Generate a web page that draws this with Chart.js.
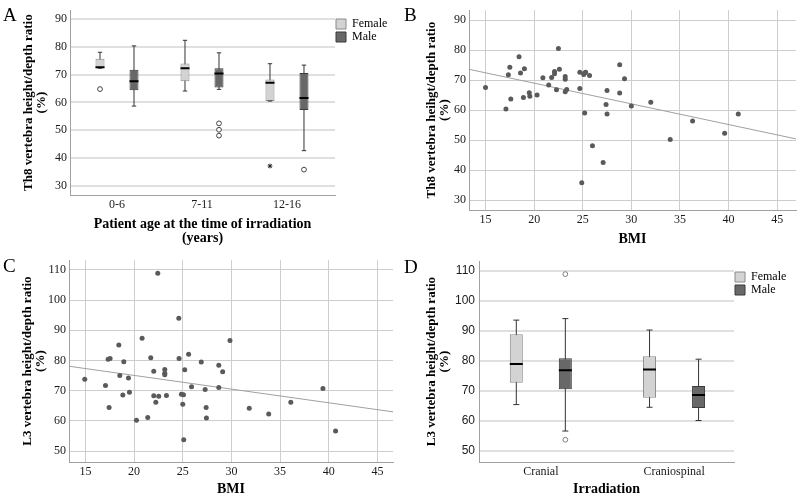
<!DOCTYPE html>
<html><head><meta charset="utf-8">
<script src="https://cdn.jsdelivr.net/npm/chart.js@4.4.1/dist/chart.umd.min.js"></script>
<style>
html,body{margin:0;padding:0;background:#fff;}
#wrap{position:relative;width:800px;height:498px;overflow:hidden;background:#fff;}
canvas{position:absolute;}
.lbl{position:absolute;font-family:"Liberation Serif","Times New Roman",serif;font-size:19px;line-height:19px;color:#000;}
</style></head><body>
<div id="wrap">
<canvas id="cA" width="400" height="250" style="left:0;top:0"></canvas>
<canvas id="cB" width="400" height="250" style="left:400px;top:0"></canvas>
<canvas id="cC" width="400" height="248" style="left:0;top:250px"></canvas>
<canvas id="cD" width="400" height="248" style="left:400px;top:250px"></canvas>
<div class="lbl" style="left:3px;top:5px">A</div>
<div class="lbl" style="left:404px;top:5px">B</div>
<div class="lbl" style="left:3px;top:256px">C</div>
<div class="lbl" style="left:404px;top:257px">D</div>
</div>
<script>
// ---------- Panel A: Th8 ratio by age group (box plots) ----------
const ageGroups = ['0-6', '7-11', '12-16'];
const th8Ticks = [30, 40, 50, 60, 70, 80, 90];
const aFemaleLow = [72.3, 64.1, 60.5];
const aFemaleQ1 = [72.3, 67.6, 60.5];
const aFemaleMedian = [72.6, 72.3, 67.1];
const aFemaleQ3 = [75.7, 74.0, 68.2];
const aFemaleHigh = [78.0, 82.3, 73.9];
const aFemaleOutliers = [[64.8], [], []];
const aFemaleExtremes = [[], [], [37.2]];
const aMaleLow = [58.7, 64.7, 42.7];
const aMaleQ1 = [64.4, 65.4, 57.3];
const aMaleMedian = [67.6, 70.4, 61.6];
const aMaleQ3 = [71.7, 72.3, 70.6];
const aMaleHigh = [80.3, 77.8, 73.4];
const aMaleOutliers = [[], [52.5, 50.2, 48.1], [35.9]];
const aMaleExtremes = [[], [], []];

// ---------- Panel B: Th8 ratio vs BMI ----------
const bmiTicks = [15, 20, 25, 30, 35, 40, 45];
const bmiB = [15.0, 17.1, 17.35, 17.5, 17.6, 18.45, 18.6, 18.9, 19.0, 19.5, 19.56, 20.3, 20.9, 21.5, 21.8, 22.1, 22.1, 22.3, 22.5, 22.6, 23.2, 23.2, 23.2, 23.35, 24.7, 24.7, 25.1, 25.2, 25.3, 25.7, 25.2, 24.9, 26.0, 27.1, 27.4, 27.5, 27.5, 28.8, 28.8, 29.3, 30.0, 32.0, 34.0, 36.3, 39.6, 41.0];
const th8B = [67.5, 60.4, 71.75, 74.3, 63.7, 77.8, 72.4, 64.2, 73.8, 65.8, 64.6, 65.0, 70.8, 68.4, 70.9, 72.9, 72.1, 66.8, 80.5, 73.6, 71.2, 70.3, 66.1, 66.9, 72.6, 67.2, 71.9, 72.4, 72.6, 71.55, 59.0, 35.8, 48.1, 42.5, 61.9, 58.7, 66.5, 75.1, 65.7, 70.45, 61.4, 62.6, 50.2, 56.4, 52.3, 58.7];
const fitLineB = [[13.3, 73.6], [46.94, 50.4]];

// ---------- Panel C: L3 ratio vs BMI ----------
const l3Ticks = [50, 60, 70, 80, 90, 100, 110];
const bmiC = [14.93, 17.06, 17.43, 17.33, 17.53, 18.43, 18.53, 18.84, 18.94, 19.42, 19.52, 20.24, 20.82, 21.4, 21.71, 22.02, 22.02, 22.23, 22.43, 22.53, 23.15, 23.15, 23.15, 23.32, 24.59, 24.62, 24.86, 25.07, 25.0, 25.1, 25.2, 25.6, 25.9, 26.9, 27.3, 27.4, 27.43, 28.7, 28.7, 29.1, 29.85, 31.83, 33.83, 36.1, 39.4, 40.7];
const l3C = [73.8, 71.7, 64.4, 80.4, 80.7, 85.1, 75.0, 68.6, 79.6, 74.2, 69.5, 60.2, 87.4, 61.1, 80.9, 76.4, 68.3, 66.2, 108.9, 68.2, 77.0, 75.8, 75.3, 68.4, 94.0, 80.7, 68.8, 68.7, 65.5, 53.8, 76.9, 82.1, 71.3, 79.5, 70.4, 64.4, 61.0, 78.4, 71.1, 76.3, 86.6, 64.2, 62.3, 66.2, 70.7, 56.7];
const fitLineC = [[13.31, 78.1], [46.6, 63.0]];

// ---------- Panel D: L3 ratio by irradiation (box plots) ----------
const irradiation = ['Cranial', 'Craniospinal'];
const dFemaleLow = [65.5, 64.6];
const dFemaleQ1 = [72.8, 67.8];
const dFemaleMedian = [79.0, 77.2];
const dFemaleQ3 = [88.9, 81.6];
const dFemaleHigh = [93.6, 90.3];
const dFemaleOutliers = [[], []];
const dMaleLow = [56.7, 60.2];
const dMaleQ1 = [70.6, 64.4];
const dMaleMedian = [76.9, 68.7];
const dMaleQ3 = [80.9, 71.7];
const dMaleHigh = [94.1, 80.6];
const dMaleOutliers = [[108.9, 53.8], []];

// ---------- styling ----------
const SERIF = '"Liberation Serif", "Times New Roman", serif';
const SANS = '"Liberation Sans", Arial, sans-serif';
const FEMALE_FILL = '#d3d3d3', FEMALE_BORDER = '#8a8a8a';
const MALE_FILL = '#686868', MALE_BORDER = '#3a3a3a';
const WHISKER = '#333333';
const AXIS = '#a0a0a0';
const TICK = '#1a1a1a';

function boxplotSets(label, n, offset, s, look) {
  const pos = Array.from({length: n}, (_, i) => i + 1 + offset);
  const sets = [];
  sets.push({type: 'bar', label, isBox: true, order: 2, grouped: false,
    maxBarThickness: look.boxW,
    data: pos.map((x, i) => ({x, y: [s.q1[i], s.q3[i]]})),
    backgroundColor: look.fill, borderColor: look.border, borderWidth: 1, borderSkipped: false});
  sets.push({type: 'bar', label: label + ' whisker', order: 3, grouped: false,
    maxBarThickness: 1,
    data: pos.map((x, i) => ({x, y: [s.low[i], s.high[i]]})),
    backgroundColor: WHISKER, borderWidth: 0});
  const caps = [];
  pos.forEach((x, i) => { caps.push({x, y: s.low[i]}); caps.push({x, y: s.high[i]}); });
  sets.push({type: 'scatter', label: label + ' caps', order: 1, showLine: false, data: caps,
    pointStyle: 'line', pointRadius: look.capR, borderColor: WHISKER, pointBorderColor: WHISKER, pointBorderWidth: 1});
  sets.push({type: 'scatter', label: label + ' median', order: 0, showLine: false,
    data: pos.map((x, i) => ({x, y: s.med[i]})),
    pointStyle: 'line', pointRadius: look.boxW / 2, pointBorderColor: '#000', pointBorderWidth: 2});
  const outs = [];
  (s.out || []).forEach((arr, i) => arr.forEach(v => outs.push({x: pos[i], y: v})));
  sets.push({type: 'scatter', label: label + ' outliers', order: 0, showLine: false, data: outs,
    pointStyle: 'circle', pointRadius: 2.4, pointBackgroundColor: '#fff', pointBorderColor: look.outColor, pointBorderWidth: 1});
  const ext = [];
  (s.ext || []).forEach((arr, i) => arr.forEach(v => ext.push({x: pos[i], y: v})));
  sets.push({type: 'scatter', label: label + ' extremes', order: 0, showLine: false, data: ext,
    pointStyle: 'star', pointRadius: 2.4, pointBackgroundColor: '#222', pointBorderColor: '#222', pointBorderWidth: 1});
  return sets;
}

function scatterSets(xs, ys, fit) {
  return [
    {type: 'scatter', label: 'points', order: 0, showLine: false,
      data: xs.map((x, i) => ({x, y: ys[i]})),
      pointRadius: 2.5, pointBackgroundColor: '#5a5a5a', pointBorderWidth: 0},
    {type: 'line', label: 'fit', order: 1, data: fit.map(p => ({x: p[0], y: p[1]})),
      borderColor: '#a0a0a0', borderWidth: 1, pointRadius: 0, fill: false, tension: 0}
  ];
}

function makeChart(id, cfg) {
  const plugins = [];
  if (cfg.legendW) {
    plugins.push({
      id: 'legendWidthFix',
      beforeLayout(chart) {
        const lg = chart.legend;
        if (lg && !lg.__fixedW) {
          const orig = lg.fit;
          lg.fit = function () { orig.call(this); this.width = cfg.legendW; };
          lg.__fixedW = true;
        }
      }
    });
  }
  return new Chart(document.getElementById(id), {
    type: 'scatter',
    data: {datasets: cfg.datasets},
    options: {
      responsive: false, animation: false, devicePixelRatio: 1, events: [],
      layout: {padding: {top: cfg.top, right: cfg.padRight || 0, left: 0, bottom: 0}},
      plugins: {
        tooltip: {enabled: false},
        legend: cfg.legendW ? {
          display: true, position: 'right', align: 'start',
          title: {display: true, text: '', font: {size: cfg.legendTitleH, lineHeight: 1}, padding: 0},
          labels: {boxWidth: 10, boxHeight: 10, padding: 1, color: '#000',
            font: {family: SERIF, size: 12},
            filter: (item, data) => !!data.datasets[item.datasetIndex].isBox}
        } : {display: false}
      },
      scales: {
        x: {
          type: 'linear', min: cfg.xMin, max: cfg.xMax, offset: false,
          afterFit: s => { s.height = cfg.xAxisH; },
          afterBuildTicks: s => { s.ticks = cfg.xTicks.map(v => ({value: v})); },
          grid: {display: cfg.xGrid, color: cfg.gridColor, lineWidth: cfg.gridW, drawTicks: false, offset: false},
          border: {display: true, color: AXIS, width: 1},
          ticks: {padding: 3, color: TICK, font: {family: SERIF, size: 12}, maxRotation: 0, autoSkip: false,
            callback: cfg.xLabel || (v => v)},
          title: {display: true, text: cfg.xTitle, color: '#000',
            font: {family: SERIF, size: 14, weight: 'bold', lineHeight: 1},
            padding: {top: 0, bottom: cfg.xTitlePad}}
        },
        y: {
          type: 'linear', min: cfg.yMin, max: cfg.yMax, beginAtZero: false,
          afterFit: s => { s.width = cfg.left; },
          afterBuildTicks: s => { s.ticks = cfg.yTicks.map(v => ({value: v})); },
          grid: {color: cfg.gridColor, lineWidth: cfg.gridW, drawTicks: false},
          border: {display: true, color: AXIS, width: 1},
          ticks: {padding: cfg.yTickPad || 3, color: TICK, font: {family: cfg.yTickFont || SERIF, size: 12}},
          title: {display: true, text: cfg.yTitle, color: '#000',
            font: {family: SERIF, size: 13, weight: 'bold', lineHeight: 1},
            padding: {top: cfg.yTitlePad, bottom: 0}}
        }
      }
    },
    plugins
  });
}

// Panel A
makeChart('cA', {
  datasets: [
    ...boxplotSets('Female', ageGroups.length, -0.2,
      {low: aFemaleLow, q1: aFemaleQ1, med: aFemaleMedian, q3: aFemaleQ3, high: aFemaleHigh, out: aFemaleOutliers, ext: aFemaleExtremes},
      {fill: FEMALE_FILL, border: FEMALE_BORDER, boxW: 9, capR: 2.2, outColor: '#444'}),
    ...boxplotSets('Male', ageGroups.length, 0.2,
      {low: aMaleLow, q1: aMaleQ1, med: aMaleMedian, q3: aMaleQ3, high: aMaleHigh, out: aMaleOutliers, ext: aMaleExtremes},
      {fill: MALE_FILL, border: MALE_BORDER, boxW: 9, capR: 2.2, outColor: '#444'})
  ],
  top: 3, left: 70, legendW: 65, legendTitleH: 14, xAxisH: 55,
  xMin: 0.447, xMax: 3.565, xTicks: [1, 2, 3], xGrid: false,
  xLabel: v => ageGroups[Math.round(v) - 1],
  xTitle: ['Patient age at the time of irradiation', '(years)'], xTitlePad: 5,
  yMin: 26.8, yMax: 93.1, yTicks: th8Ticks,
  yTitle: ['Th8 vertebra height/depth ratio', '(%)'], yTitlePad: 22,
  gridColor: '#e0e0e0', gridW: 2
});

// Panel B
makeChart('cB', {
  datasets: scatterSets(bmiB, th8B, fitLineB),
  top: 4, left: 69, padRight: 2, xAxisH: 40,
  xMin: 13.3, xMax: 46.94, xTicks: bmiTicks, xGrid: true,
  xTitle: 'BMI', xTitlePad: 4,
  yMin: 26.7, yMax: 93.3, yTicks: th8Ticks,
  yTitle: ['Th8 vertebra heihgt/depth ratio', '(%)'], yTitlePad: 25,
  gridColor: '#cdcdcd', gridW: 1
});

// Panel C
makeChart('cC', {
  datasets: scatterSets(bmiC, l3C, fitLineC),
  top: 6, left: 69, padRight: 7, xAxisH: 36,
  xMin: 13.31, xMax: 46.6, xTicks: bmiTicks, xGrid: true,
  xTitle: 'BMI', xTitlePad: 2,
  yMin: 46.4, yMax: 113.2, yTicks: l3Ticks,
  yTitle: ['L3 vertebra height/depth ratio', '(%)'], yTitlePad: 21,
  gridColor: '#cdcdcd', gridW: 1
});

// Panel D
makeChart('cD', {
  datasets: [
    ...boxplotSets('Female', irradiation.length, -0.184,
      {low: dFemaleLow, q1: dFemaleQ1, med: dFemaleMedian, q3: dFemaleQ3, high: dFemaleHigh, out: dFemaleOutliers},
      {fill: FEMALE_FILL, border: FEMALE_BORDER, boxW: 13, capR: 3, outColor: '#808080'}),
    ...boxplotSets('Male', irradiation.length, 0.184,
      {low: dMaleLow, q1: dMaleQ1, med: dMaleMedian, q3: dMaleQ3, high: dMaleHigh, out: dMaleOutliers},
      {fill: MALE_FILL, border: MALE_BORDER, boxW: 13, capR: 3, outColor: '#808080'})
  ],
  top: 6, left: 79, legendW: 66, legendTitleH: 14, xAxisH: 36,
  xMin: 0.536, xMax: 2.45, xTicks: [1, 2], xGrid: false,
  xLabel: v => irradiation[Math.round(v) - 1],
  xTitle: 'Irradiation', xTitlePad: 2,
  yMin: 46.4, yMax: 113.2, yTicks: l3Ticks, yTickFont: SANS, yTickPad: 4,
  yTitle: ['L3 vertebra height/depth ratio', '(%)'], yTitlePad: 25,
  gridColor: '#e0e0e0', gridW: 2
});
</script>
</body></html>
